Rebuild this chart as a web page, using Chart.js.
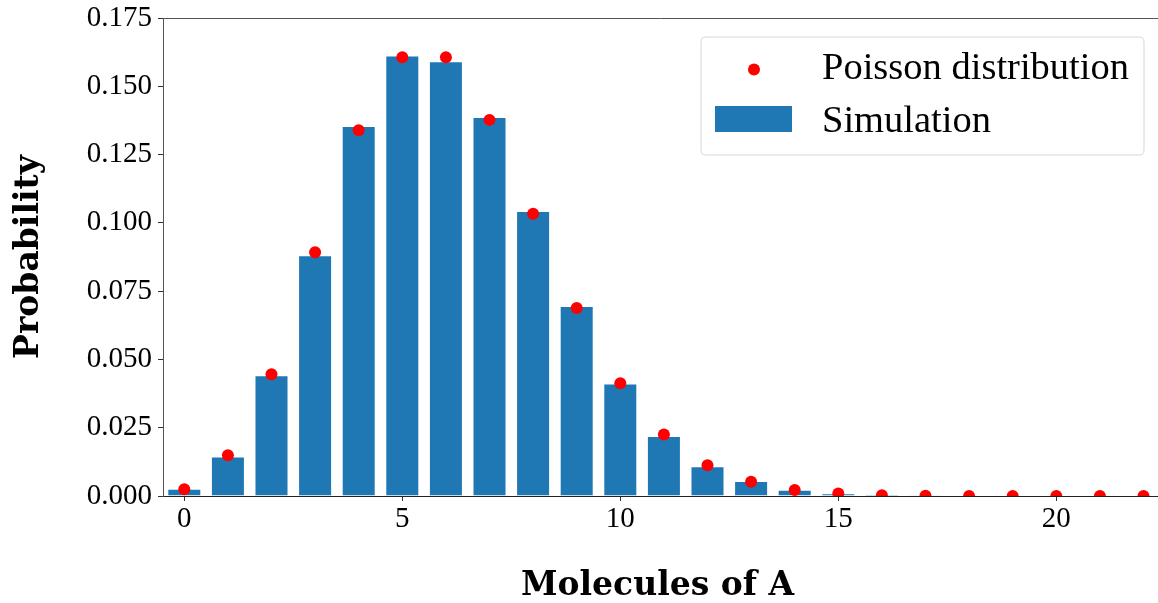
<!DOCTYPE html>
<html>
<head>
<meta charset="utf-8">
<script src="https://cdn.jsdelivr.net/npm/chart.js@4.4.1/dist/chart.umd.min.js"></script>
<style>
  html, body { margin: 0; padding: 0; background: #fff; overflow: hidden; }
  #wrap { position: relative; width: 1158px; height: 603px; }
</style>
</head>
<body>
<div id="wrap"><canvas id="c" width="1158" height="603"></canvas></div>
<script>
// Categories: number of molecules of A
const molecules = [0,1,2,3,4,5,6,7,8,9,10,11,12,13,14,15,16,17,18,19,20,21,22];
// Simulated probabilities (bars)
const simulation = [0.0027,0.0145,0.0442,0.0881,0.1355,0.1613,0.1592,0.1388,0.1043,0.0696,0.0412,0.0220,0.0109,0.0055,0.0023,0.0010,0.0005,0.0003,0.0001,0,0,0,0];
// Poisson distribution values (dots)
const poisson = [0.0025,0.0149,0.0446,0.0892,0.1339,0.1606,0.1606,0.1377,0.1033,0.0688,0.0413,0.0225,0.0113,0.0052,0.0022,0.0009,0.0003,0.0001,0.00004,0.00001,0,0,0];
// Tick labels
const xTickValues = [0,5,10,15,20];
const yTickLabels = ['0.000','0.025','0.050','0.075','0.100','0.125','0.150','0.175'];

const X_MIN = -0.4885;
const PX_PER_UNIT = 43.6;

const barData = molecules.map((m,i)=>({x:m, y:simulation[i]}));
const dotData = molecules.map((m,i)=>({x:m, y:poisson[i]}));

const legendPlugin = {
  id: 'customLegend',
  afterDraw(chart) {
    const ctx = chart.ctx;
    const ca = chart.chartArea;
    const ds = chart.data.datasets;
    const bx = 701, by = ca.top + 19, bw = 443, bh = 118, r = 5;
    ctx.save();
    ctx.beginPath();
    ctx.moveTo(bx + r, by);
    ctx.lineTo(bx + bw - r, by);
    ctx.quadraticCurveTo(bx + bw, by, bx + bw, by + r);
    ctx.lineTo(bx + bw, by + bh - r);
    ctx.quadraticCurveTo(bx + bw, by + bh, bx + bw - r, by + bh);
    ctx.lineTo(bx + r, by + bh);
    ctx.quadraticCurveTo(bx, by + bh, bx, by + bh - r);
    ctx.lineTo(bx, by + r);
    ctx.quadraticCurveTo(bx, by, bx + r, by);
    ctx.closePath();
    ctx.fillStyle = 'rgba(255,255,255,0.8)';
    ctx.fill();
    ctx.strokeStyle = '#d6d6d6';
    ctx.lineWidth = 1;
    ctx.stroke();
    // Poisson entry
    ctx.beginPath();
    ctx.arc(bx + 53, by + 32.5, 6, 0, Math.PI * 2);
    ctx.fillStyle = ds[1].backgroundColor;
    ctx.fill();
    // Simulation entry
    ctx.fillStyle = ds[0].backgroundColor;
    ctx.fillRect(bx + 14, by + 69, 77, 26);
    ctx.fillStyle = '#000';
    ctx.font = '38.5px "Liberation Serif"';
    ctx.textBaseline = 'alphabetic';
    ctx.textAlign = 'left';
    ctx.fillText(ds[1].label, bx + 121, by + 41.5);
    ctx.fillText(ds[0].label, bx + 121, by + 95);
    ctx.restore();
  }
};

const spines = {
  id: 'spines',
  afterDatasetsDraw(chart) {
    const ctx = chart.ctx, ca = chart.chartArea;
    ctx.save();
    ctx.lineWidth = 1;
    ctx.strokeStyle = '#555';
    ctx.beginPath();
    ctx.moveTo(ca.left, Math.round(ca.top) + 0.5);
    ctx.lineTo(chart.width, Math.round(ca.top) + 0.5);
    ctx.stroke();
    if (ca.right < chart.width) {
      ctx.strokeStyle = '#222';
      const yb = Math.round(ca.bottom - 0.5) + 0.5;
      ctx.beginPath();
      ctx.moveTo(ca.right - 1, yb);
      ctx.lineTo(chart.width, yb);
      ctx.stroke();
    }
    ctx.restore();
  }
};

function zeroPad(s) { s.paddingLeft = 0; s.paddingRight = 0; s.paddingTop = 0; s.paddingBottom = 0; }

const chart = new Chart(document.getElementById('c'), {
  type: 'bar',
  data: {
    datasets: [
      {
        type: 'bar',
        label: 'Simulation',
        data: barData,
        backgroundColor: '#1f77b4',
        borderColor: 'rgba(255,255,255,0.35)',
        borderWidth: 1,
        barPercentage: 0.78,
        categoryPercentage: 1.0,
        order: 2
      },
      {
        type: 'line',
        label: 'Poisson distribution',
        data: dotData,
        showLine: false,
        backgroundColor: '#ff0000',
        borderColor: '#ff0000',
        pointRadius: 6,
        pointBorderWidth: 0,
        pointHoverRadius: 6,
        clip: 0,
        order: 1
      }
    ]
  },
  options: {
    responsive: false,
    animation: false,
    events: [],
    layout: { padding: { top: 18, right: 0, bottom: 0, left: 0 } },
    plugins: { legend: { display: false }, tooltip: { enabled: false } },
    scales: {
      x: {
        type: 'linear',
        min: X_MIN,
        max: X_MIN + 995 / PX_PER_UNIT,
        offset: false,
        afterFit(s) { s.height = 107; zeroPad(s); },
        afterBuildTicks(s) { s.ticks = xTickValues.map(v => ({ value: v })); },
        ticks: {
          font: { family: '"Liberation Serif"', size: 29 },
          color: '#000',
          padding: 1,
          maxRotation: 0,
          callback: (v) => String(v)
        },
        grid: { display: true, offset: false, drawOnChartArea: false, drawTicks: true, tickLength: 5, color: '#333' },
        border: { display: true, color: '#222', width: 1 },
        title: {
          display: true,
          text: 'Molecules of A',
          font: { family: '"DejaVu Serif"', size: 33, weight: 'bold' },
          color: '#000',
          padding: { top: 0, bottom: -3 }
        }
      },
      y: {
        min: 0,
        max: 0.175,
        afterFit(s) { s.width = 163; zeroPad(s); },
        afterBuildTicks(s) { s.ticks = yTickLabels.map(t => ({ value: parseFloat(t) })); },
        ticks: {
          font: { family: '"Liberation Serif"', size: 29 },
          color: '#000',
          padding: 6,
          callback: (v, i) => yTickLabels[i]
        },
        grid: { display: true, offset: false, drawOnChartArea: false, drawTicks: true, tickLength: 5, color: '#333' },
        border: { display: true, color: '#555', width: 1 },
        title: {
          display: true,
          text: 'Probability',
          font: { family: '"DejaVu Serif"', size: 33, weight: 'bold' },
          color: '#000',
          padding: { top: 10, bottom: 0 }
        }
      }
    }
  },
  plugins: [legendPlugin, spines]
});

// Keep the reference pixel scale for x even if the library reserves a few pixels on the right
const ca = chart.chartArea;
const wantMax = X_MIN + (ca.right - ca.left) / PX_PER_UNIT;
if (Math.abs(chart.options.scales.x.max - wantMax) > 1e-6) {
  chart.options.scales.x.max = wantMax;
  chart.update('none');
}
</script>
</body>
</html>
